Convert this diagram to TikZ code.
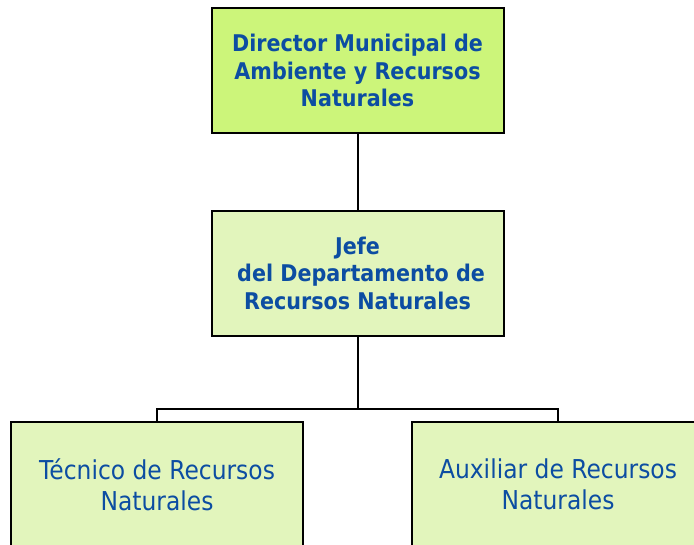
\documentclass[tikz,border=0pt]{standalone}
\usepackage{fontspec}
\setmainfont{DejaVu Sans}[FakeStretch=0.9]
\definecolor{txtblue}{RGB}{12,77,162}
\definecolor{limefill}{RGB}{204,245,122}
\definecolor{palefill}{RGB}{226,245,188}
\begin{document}
\begin{tikzpicture}[x=1pt,y=-1pt,
  orgbox/.style={draw=black, line width=2pt, minimum width=292pt, minimum height=125pt,
    align=center, text=txtblue, inner sep=0pt},
  boldtxt/.style={font=\fontsize{23}{27.5}\selectfont\bfseries},
  regtxt/.style={font=\fontsize{26}{31}\selectfont},
  link/.style={draw=black, line width=2pt}]
\useasboundingbox (0,0) rectangle (694,544);
\clip (0,0) rectangle (694,544);
\node[orgbox, boldtxt, fill=limefill] (dir) at (357.5,70.5)
  {Director Municipal de\\Ambiente y Recursos\\Naturales};
\node[orgbox, boldtxt, fill=palefill] (jefe) at (357.5,273)
  {Jefe\\\ del Departamento de\\Recursos Naturales};
\node[orgbox, regtxt, fill=palefill] (tec) at (157,484.5)
  {Técnico de Recursos\\Naturales};
\node[orgbox, regtxt, fill=palefill] (aux) at (558,484.5)
  {Auxiliar de Recursos\\Naturales};
\coordinate (bus) at (357.5,409);
\draw[link] (dir.south) -- (jefe.north);
\draw[link] (jefe.south) -- (bus);
\draw[link] (tec.north) |- (bus) -| (aux.north);
\end{tikzpicture}
\end{document}
